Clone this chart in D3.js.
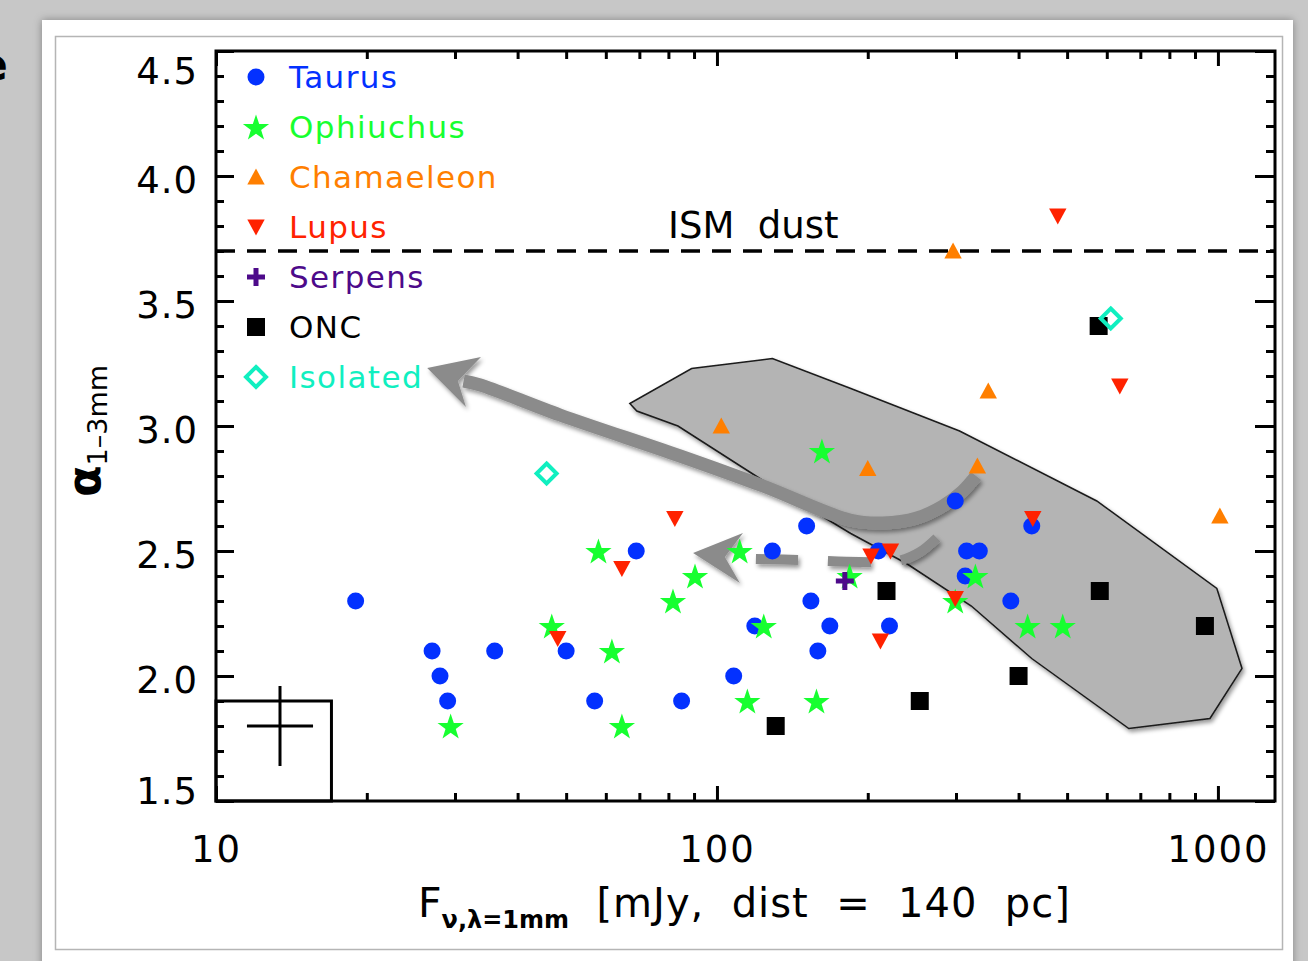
<!DOCTYPE html>
<html lang="en">
<head>
<meta charset="utf-8">
<title>alpha 1-3mm vs F 1mm</title>
<style>
  body { margin: 0; background: #c6c6c6; }
  svg { display: block; font-family: "DejaVu Sans", sans-serif; }
  text { white-space: pre; }
</style>
<script src="https://d3js.org/d3.v7.min.js"></script>
</head>
<body>
<div id="chart"></div>
<script>
// each point: [F_1mm in mJy (scaled to 140 pc), alpha_1-3mm]
var taurus = [[19, 2.3], [27, 2.1], [28, 2.0], [29, 1.9], [36, 2.1], [50, 2.1], [57, 1.9], [69, 2.5],
              [85, 1.9], [108, 2.0], [119, 2.2], [129, 2.5], [151, 2.6], [154, 2.3], [159, 2.1], [168, 2.2],
              [210, 2.5], [221, 2.2], [299, 2.7], [315, 2.5], [334, 2.5], [313, 2.4], [386, 2.3], [425, 2.6]];
var ophiuchus = [[29.4, 1.8], [46.8, 2.2], [58, 2.5], [61.7, 2.1], [64.6, 1.8], [81.7, 2.3], [90.4, 2.4],
                 [111, 2.5], [115, 1.9], [124, 2.2], [158, 1.9], [162, 2.9], [184, 2.4], [299, 2.3],
                 [328, 2.4], [417, 2.2], [490, 2.2]];
var chamaeleon = [[102, 3.0], [200, 2.83], [296, 3.70], [331, 2.84], [348, 3.14], [1009, 2.64]];
var lupus = [[48.1, 2.15], [64.6, 2.43], [82.4, 2.63], [203, 2.48], [222, 2.5], [212, 2.14], [299, 2.31],
             [427, 2.63], [637, 3.16], [479, 3.84]];
var serpens = [[180, 2.38]];
var onc = [[131, 1.8], [218, 2.34], [254, 1.9], [400, 2.0], [578, 3.4], [581, 2.34], [942, 2.2]];
var isolated = [[45.7, 2.81], [611, 3.43]];

// grey region (model/occupied area), outline in data units
var shadedRegion = [[67, 3.09], [69.2, 3.06], [83.6, 3.0], [124, 2.78], [185, 2.57], [239, 2.45], [322, 2.28],
                    [425, 2.07], [664, 1.79], [964, 1.83], [1117, 2.03], [995, 2.35], [573, 2.70], [305, 2.98],
                    [185, 3.15], [129, 3.27], [89, 3.23]];

// grey arrows (data units)
var arrowBody = [[329, 2.80], [308, 2.736], [282.5, 2.68], [250.6, 2.632], [214.3, 2.612], [184.2, 2.624],
                 [123.6, 2.76], [84.4, 2.88], [48.6, 3.044], [33.7, 3.164], [31.2, 3.18]];
var arrowHead = [[26.4, 3.232], [33.8, 3.276], [30.4, 3.18], [31.55, 3.076]];
var dashBody = [[274.8, 2.552], [254.2, 2.496], [229.8, 2.46], [192.9, 2.456], [146.5, 2.464], [119.6, 2.468]];
var dashHead = [[89.6, 2.492], [112.7, 2.572], [103.7, 2.476], [111.1, 2.372]];

var ismAlpha = 3.7;
var errCenter = [13.42, 1.8];
var errFactor = 1.164;   // flux error (multiplicative)
var errAlpha = 0.16;
var errBox = [[10, 1.5], [17, 1.9]];

var xMajor = [10, 100, 1000];
var yMajor = [1.5, 2.0, 2.5, 3.0, 3.5, 4.0, 4.5];

var names = ['Taurus', 'Ophiuchus', 'Chamaeleon', 'Lupus', 'Serpens', 'ONC', 'Isolated'];
var colors = ['#0331ff', '#17ff30', '#ff7f00', '#ff2200', '#4d0a8a', '#000000', '#10efc0'];
var shapes = ['circle', 'star', 'up', 'down', 'plus', 'square', 'diamond'];
var seriesData = [taurus, ophiuchus, chamaeleon, lupus, serpens, onc, isolated];

var w = 1308, h = 961;

var svg = d3.select('#chart').append('svg')
            .attr('width', w)
            .attr('height', h);

var defs = svg.append('defs');
var f1 = defs.append('filter').attr('id', 'shadow').attr('x', '-20%').attr('y', '-20%').attr('width', '140%').attr('height', '140%');
f1.append('feDropShadow').attr('dx', 2).attr('dy', 3).attr('stdDeviation', 2)
  .attr('flood-color', '#000').attr('flood-opacity', 0.4);
var f2 = defs.append('filter').attr('id', 'panelShadow').attr('x', '-5%').attr('y', '-5%').attr('width', '110%').attr('height', '110%');
f2.append('feDropShadow').attr('dx', 0).attr('dy', 0).attr('stdDeviation', 4)
  .attr('flood-color', '#000').attr('flood-opacity', 0.35);

// page background + white panel
svg.append('rect').attr('width', w).attr('height', h).attr('fill', '#c7c7c7');
svg.append('text').attr('x', -22).attr('y', 80).attr('font-size', 44).attr('font-weight', 'bold').text('e');
svg.append('rect').attr('x', 42).attr('y', 20).attr('width', 1251).attr('height', 980)
   .attr('fill', '#fff').attr('filter', 'url(#panelShadow)');
svg.append('rect').attr('x', 55.5).attr('y', 36.5).attr('width', 1227).attr('height', 913)
   .attr('fill', 'none').attr('stroke', '#b5b5b5').attr('stroke-width', 1.5);

var x = d3.scaleLog().domain([10, 1300]).range([216, 1275]);
var y = d3.scaleLinear().domain([1.5, 4.5]).range([801, 51]);
var x0 = 216, x1 = 1275, y0 = 801, y1 = 51;

// shaded region
svg.append('path')
   .datum(shadedRegion)
   .attr('d', d3.line().x(function(d) { return x(d[0]); }).y(function(d) { return y(d[1]); }).curve(d3.curveLinearClosed))
   .attr('fill', '#b4b4b4')
   .attr('stroke', '#1a1a1a')
   .attr('stroke-width', 1.5)
   .attr('filter', 'url(#shadow)');

// arrows
var arrowCol = '#8b8b8b';
var curvedLine = d3.line().x(function(d) { return x(d[0]); }).y(function(d) { return y(d[1]); }).curve(d3.curveCatmullRom);
var closedLine = d3.line().x(function(d) { return x(d[0]); }).y(function(d) { return y(d[1]); }).curve(d3.curveLinearClosed);

var arrows = svg.append('g').attr('filter', 'url(#shadow)');
arrows.append('path').datum(arrowBody).attr('d', curvedLine)
      .attr('fill', 'none').attr('stroke', arrowCol).attr('stroke-width', 13);
arrows.append('path').datum(arrowHead).attr('d', closedLine).attr('fill', arrowCol);
arrows.append('path').datum(dashBody).attr('d', curvedLine)
      .attr('fill', 'none').attr('stroke', arrowCol).attr('stroke-width', 10)
      .attr('stroke-dasharray', '43,30');
arrows.append('path').datum(dashHead).attr('d', closedLine).attr('fill', arrowCol);

// ISM line
svg.append('line')
   .attr('x1', x0).attr('x2', x1)
   .attr('y1', y(ismAlpha)).attr('y2', y(ismAlpha))
   .attr('stroke', '#000').attr('stroke-width', 3.5)
   .attr('stroke-dasharray', '19,12');
svg.append('text')
   .attr('x', 668).attr('y', y(ismAlpha) - 13)
   .attr('font-size', 37)
   .text('ISM  dust');

// error bar box
svg.append('rect')
   .attr('x', x(errBox[0][0])).attr('y', y(errBox[1][1]))
   .attr('width', x(errBox[1][0]) - x(errBox[0][0]))
   .attr('height', y(errBox[0][1]) - y(errBox[1][1]))
   .attr('fill', 'none').attr('stroke', '#000').attr('stroke-width', 3);
svg.append('line')
   .attr('x1', x(errCenter[0] / errFactor)).attr('x2', x(errCenter[0] * errFactor))
   .attr('y1', y(errCenter[1])).attr('y2', y(errCenter[1]))
   .attr('stroke', '#000').attr('stroke-width', 3);
svg.append('line')
   .attr('x1', x(errCenter[0])).attr('x2', x(errCenter[0]))
   .attr('y1', y(errCenter[1] - errAlpha)).attr('y2', y(errCenter[1] + errAlpha))
   .attr('stroke', '#000').attr('stroke-width', 3);

// marker shapes
function starPath(R, r) {
  var pts = [];
  for (var i = 0; i < 10; i++) {
    var a = -Math.PI / 2 + i * Math.PI / 5;
    var rr = (i % 2) ? r : R;
    pts.push([rr * Math.cos(a), rr * Math.sin(a) + 1.3]);
  }
  return 'M' + pts.join('L') + 'Z';
}
var shapePaths = {
  circle: d3.symbol().type(d3.symbolCircle).size(Math.PI * 8.5 * 8.5)(),
  star: starPath(13.8, 5.4),
  up: 'M0,-8.5L8.7,7.5L-8.7,7.5Z',
  down: 'M0,8.5L8.7,-7.5L-8.7,-7.5Z',
  square: 'M-9,-9H9V9H-9Z',
  plus: 'M-9,0H9M0,-9V9',
  diamond: 'M0,-10L10,0L0,10L-10,0Z'
};
function styleMarker(sel, i) {
  var s = shapes[i];
  sel.attr('d', shapePaths[s]);
  if (s === 'plus') {
    sel.attr('fill', 'none').attr('stroke', colors[i]).attr('stroke-width', 5);
  } else if (s === 'diamond') {
    sel.attr('fill', 'none').attr('stroke', colors[i]).attr('stroke-width', 4);
  } else {
    sel.attr('fill', colors[i]);
  }
}

// points
seriesData.forEach(function(pts, i) {
  var g = svg.append('g').attr('class', 'series');
  g.selectAll('path')
   .data(pts)
   .enter()
   .append('path')
   .attr('transform', function(d) { return 'translate(' + x(d[0]) + ',' + y(d[1]) + ')'; })
   .call(styleMarker, i);
});

// axes
function drawAxis(axis, tx, ty) {
  var g = svg.append('g').attr('transform', 'translate(' + tx + ',' + ty + ')').call(axis);
  g.select('.domain').remove();
  g.selectAll('.tick line').attr('stroke', '#000').attr('stroke-width', 3);
  g.selectAll('text').attr('fill', '#000').attr('font-size', 37).attr('font-family', '"DejaVu Sans", sans-serif');
  return g;
}
var xMinor = x.ticks().filter(function(v) { return xMajor.indexOf(v) < 0; });
var yMinor = d3.range(15, 46).map(function(v) { return v / 10; }).filter(function(v) { return yMajor.indexOf(v) < 0; });

var bx = drawAxis(d3.axisBottom(x).tickValues(xMajor).tickSize(-15).tickFormat(d3.format('d')), 0, y0);
bx.selectAll('text').attr('y', 61).attr('dy', null).attr('letter-spacing', 2);
drawAxis(d3.axisBottom(x).tickValues(xMinor).tickSize(-8).tickFormat(''), 0, y0);
drawAxis(d3.axisTop(x).tickValues(xMajor).tickSize(-15).tickFormat(''), 0, y1);
drawAxis(d3.axisTop(x).tickValues(xMinor).tickSize(-8).tickFormat(''), 0, y1);

var ly = drawAxis(d3.axisLeft(y).tickValues(yMajor).tickSize(-18).tickPadding(18).tickFormat(d3.format('.1f')), x0, 0);
ly.selectAll('text').attr('dy', '0.45em').attr('letter-spacing', 1)
  .attr('transform', function(d) { return d === 4.5 ? 'translate(0,16)' : (d === 1.5 ? 'translate(0,-14)' : null); });
drawAxis(d3.axisLeft(y).tickValues(yMinor).tickSize(-8).tickFormat(''), x0, 0);
drawAxis(d3.axisRight(y).tickValues(yMajor).tickSize(-20).tickFormat(''), x1, 0);
drawAxis(d3.axisRight(y).tickValues(yMinor).tickSize(-9).tickFormat(''), x1, 0);

// frame
svg.append('rect')
   .attr('x', x0).attr('y', y1)
   .attr('width', x1 - x0).attr('height', y0 - y1)
   .attr('fill', 'none').attr('stroke', '#000').attr('stroke-width', 3);

// legend
var legend = svg.selectAll('.legend')
                .data(names)
                .enter()
                .append('g')
                .attr('class', 'legend')
                .attr('transform', function(d, i) { return 'translate(256,' + (77 + i * 50) + ')'; });
legend.append('path').each(function(d, i) { d3.select(this).call(styleMarker, i); });
legend.append('text')
      .attr('x', 33).attr('y', 11)
      .attr('font-size', 31)
      .attr('letter-spacing', 1.4)
      .attr('fill', function(d, i) { return colors[i]; })
      .text(function(d) { return d; });

// axis titles
var xt = svg.append('text').attr('x', 418).attr('y', 917).attr('font-size', 41);
xt.append('tspan').text('F');
xt.append('tspan').attr('font-size', 24).attr('font-weight', 'bold').attr('dy', 11).text('\u03bd,\u03bb=1mm');
xt.append('tspan').attr('font-size', 40).attr('dy', -11).attr('letter-spacing', 1).text('  [mJy,  dist  =  140  pc]');

var yt = svg.append('text').attr('transform', 'translate(100,497) rotate(-90)');
yt.append('tspan').attr('font-size', 46).attr('font-weight', 'bold').text('\u03b1');
yt.append('tspan').attr('font-size', 27).attr('dy', 7).text('1\u20133mm');
</script>
</body>
</html>
